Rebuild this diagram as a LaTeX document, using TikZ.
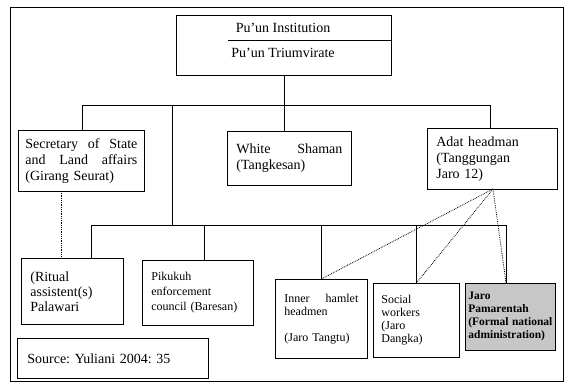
\documentclass[tikz,border=0pt]{standalone}
\usepackage{fontspec}
\setmainfont{Liberation Serif}
\newcommand{\jline}[1]{\leavevmode\hbox to\linewidth{#1}}
\frenchspacing
\begin{document}
\begin{tikzpicture}[x=1pt,y=-1pt]
\tikzset{
 box/.style={draw, line width=0.7pt, inner ysep=0pt, align=left, anchor=north west, font=\fontsize{14}{16}\selectfont},
 conn/.style={line width=0.7pt},
 dotc/.style={line width=0.8pt, densely dotted},
 lbl/.style={inner sep=0pt, font=\fontsize{14}{16}\selectfont},
}
\useasboundingbox (0,0) rectangle (569,383);
\draw[conn] (10,7) rectangle (563,381);
% top box
\node[box, minimum width=215, minimum height=60] (top) at (176,15) {};
\node[lbl] (t1) at (283,28) {Pu'un Institution};
\node[lbl] (t2) at (283,53) {Pu'un Triumvirate};
\coordinate (ls) at (228,40);
\draw[conn] (ls) -- (ls -| top.east);
% level 1
\node[box, minimum width=126, minimum height=61, text width=112, inner xsep=7] (sec) at (18,130)
 {\jline{Secretary\hfill of\hfill State}\\\jline{and\hfill Land\hfill affairs}\\(Girang Seurat)};
\node[box, minimum width=124, minimum height=54, text width=106, inner xsep=9] (ws) at (227,131)
 {\jline{White\hfill Shaman}\\(Tangkesan)};
\node[box, minimum width=130, minimum height=61, text width=112, inner xsep=9] (adat) at (427,128)
 {Adat headman\\(Tanggungan\\Jaro 12)};
% level 2
\node[box, minimum width=102, minimum height=66, text width=84, inner xsep=9, font=\fontsize{14}{15}\selectfont] (rit) at (21,258)
 {(Ritual\\assistent(s)\\Palawari};
\node[box, minimum width=111, minimum height=65, text width=93, inner xsep=9, font=\fontsize{12}{15}\selectfont] (pik) at (142,260)
 {Pikukuh\\enforcement\\council (Baresan)};
\node[box, minimum width=92, minimum height=79, text width=74, inner xsep=9, font=\fontsize{12}{13}\selectfont] (inner) at (275,279)
 {\jline{Inner\hfill hamlet}\\headmen\\[13pt](Jaro Tangtu)};
\node[box, minimum width=86, minimum height=74, text width=70, inner xsep=8, font=\fontsize{12}{13}\selectfont] (soc) at (373,283)
 {Social\\workers\\(Jaro\\Dangka)};
\node[box, fill=black!22, minimum width=90, minimum height=67, text width=84, inner xsep=3, font=\fontsize{11.5}{13}\selectfont\bfseries] (jaro) at (465,283)
 {Jaro\\Pamarentah\\\jline{(Formal\hfill national}\\administration)};
\node[box, minimum width=191, minimum height=40, text width=171, inner xsep=10] (src) at (17,338)
 {Source: Yuliani 2004: 35};
% connectors
\coordinate (j0) at (top.south |- 0,105);
\coordinate (a1) at (82,105);
\coordinate (a2) at (172,105);
\coordinate (a4) at (490,105);
\draw[conn] (top.south) -- (j0);
\draw[conn] (a1) -- (a4);
\draw[conn] (a1) -- (a1 |- sec.north);
\draw[conn] (j0) -- (j0 |- ws.north);
\draw[conn] (a4) -- (a4 |- adat.north);
\coordinate (b0) at (172,225);
\coordinate (b1) at (91,225);
\coordinate (b2) at (204,225);
\coordinate (b3) at (321,225);
\coordinate (b4) at (416,225);
\coordinate (b5) at (506,225);
\draw[conn] (a2) -- (b0);
\draw[conn] (b1) -- (b5);
\draw[conn] (b1) -- (b1 |- rit.north);
\draw[conn] (b2) -- (b2 |- pik.north);
\draw[conn] (b3) -- (b3 |- inner.north);
\draw[conn] (b4) -- (b4 |- soc.north);
\draw[conn] (b5) -- (b5 |- jaro.north);
% dotted
\coordinate (d1) at (61,191);
\draw[dotc] (d1) -- (d1 |- rit.north);
\coordinate (d2) at (493,189);
\draw[dotc] (d2) -- (inner.north);
\draw[dotc] (d2) -- (soc.north);
\draw[dotc] (d2) -- (b5 |- jaro.north);
\end{tikzpicture}
\end{document}
